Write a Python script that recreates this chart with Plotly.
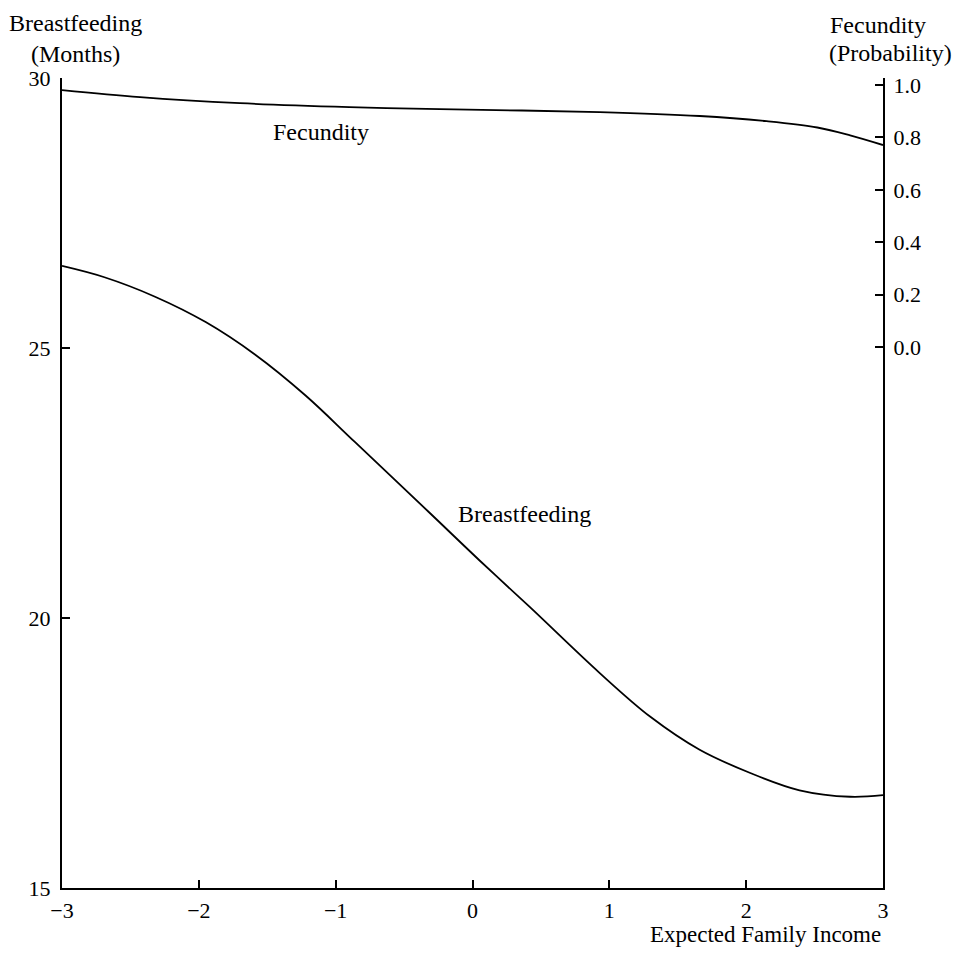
import plotly.graph_objects as go

# Data
income_bf = [-3.0, -2.69, -2.32, -1.95, -1.59, -1.22, -0.86, -0.31, 0.05, 0.42,
             0.93, 1.30, 1.66, 2.03, 2.39, 2.76, 3.0]
breastfeeding = [26.52, 26.31, 25.95, 25.48, 24.88, 24.12, 23.26, 21.94, 21.07, 20.20,
                 18.98, 18.17, 17.56, 17.13, 16.81, 16.69, 16.72]

income_fec = [-3.0, -2.43, -1.70, -0.90, -0.24, 0.93, 1.66, 2.15, 2.52, 2.76, 3.0]
fecundity = [0.981, 0.954, 0.931, 0.916, 0.908, 0.897, 0.882, 0.862, 0.838, 0.808, 0.771]

x_ticks = [-3, -2, -1, 0, 1, 2, 3]
x_ticktext = ["\u22123", "\u22122", "\u22121", "0", "1", "2", "3"]
y_ticks = [15, 20, 25, 30]
y2_ticks = [0.0, 0.2, 0.4, 0.6, 0.8, 1.0]
y2_ticktext = ["0.0", "0.2", "0.4", "0.6", "0.8", "1.0"]

FONT = "Liberation Serif"
TITLE_SIZE = 24
fig = go.Figure()
fig.add_trace(go.Scatter(x=income_bf, y=breastfeeding, mode="lines",
                         line=dict(color="black", width=1.8, shape="spline", smoothing=1.0),
                         yaxis="y", showlegend=False))
fig.add_trace(go.Scatter(x=income_fec, y=fecundity, mode="lines",
                         line=dict(color="black", width=1.8, shape="spline", smoothing=1.0),
                         yaxis="y2", showlegend=False))

axis_common = dict(showgrid=False, zeroline=False, showline=True, linecolor="black",
                   linewidth=2, ticks="inside", ticklen=8, tickwidth=2, tickcolor="black",
                   tickfont=dict(family=FONT, size=22, color="black"))

fig.update_layout(
    width=949, height=943,
    margin=dict(l=54, r=74, t=70, b=63),
    paper_bgcolor="white", plot_bgcolor="white",
    font=dict(family=FONT, size=22, color="black"),
    xaxis=dict(range=[-3, 3], tickvals=x_ticks, ticktext=x_ticktext,
               ticklabelstandoff=2, **axis_common),
    yaxis=dict(range=[15, 30], tickvals=y_ticks, ticklabelstandoff=5, **axis_common),
    yaxis2=dict(range=[-2.065, 1.027], tickvals=y2_ticks, ticktext=y2_ticktext,
                overlaying="y", side="right", ticklabelstandoff=4, **axis_common),
    annotations=[
        dict(text="Breastfeeding<br>(Months)", xref="paper", yref="paper",
             x=0.016, y=1.049, xanchor="center", yanchor="middle", showarrow=False,
             font=dict(family=FONT, size=TITLE_SIZE)),
        dict(text="Fecundity", xref="paper", yref="paper",
             x=0.9939, y=1.066, xanchor="center", yanchor="middle", showarrow=False,
             font=dict(family=FONT, size=TITLE_SIZE)),
        dict(text="(Probability)", xref="paper", yref="paper",
             x=1.0097, y=1.0309, xanchor="center", yanchor="middle", showarrow=False,
             font=dict(family=FONT, size=TITLE_SIZE)),
        dict(text="Expected Family Income", xref="paper", yref="paper",
             x=1.0, y=-0.0755, xanchor="right", yanchor="bottom", showarrow=False,
             font=dict(family=FONT, size=23)),
        dict(text="Fecundity", xref="x", yref="y",
             x=-1.11, y=29.0, xanchor="center", yanchor="middle", showarrow=False,
             font=dict(family=FONT, size=TITLE_SIZE)),
        dict(text="Breastfeeding", xref="x", yref="y",
             x=0.38, y=21.93, xanchor="center", yanchor="middle", showarrow=False,
             font=dict(family=FONT, size=TITLE_SIZE)),
    ],
)

fig.write_html("out.html")
